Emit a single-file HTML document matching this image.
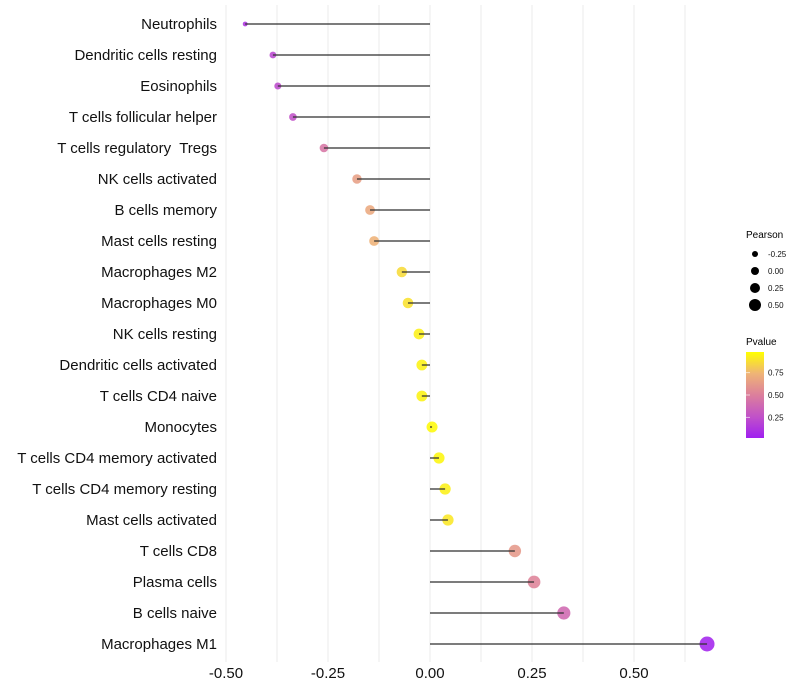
<!DOCTYPE html>
<html><head><meta charset="utf-8"><style>
body{margin:0;background:#fff;}
svg{display:block;font-family:"Liberation Sans",sans-serif;}
text{white-space:pre;}
</style></head><body>
<svg id="chart" width="800" height="700">
<defs>
<linearGradient id="pgrad" x1="0" y1="1" x2="0" y2="0">
<stop offset="0" stop-color="#a020f0"/><stop offset="0.25" stop-color="#c152c8"/>
<stop offset="0.5" stop-color="#dc7f9c"/><stop offset="0.75" stop-color="#efb476"/>
<stop offset="1" stop-color="#ffff00"/></linearGradient>
</defs>
<g id="grid"></g><g id="marks"></g><g id="labels"></g>
<g>
<text x="746" y="238" font-size="10">Pearson</text>
<g id="sizeLegend"></g>
<text x="746" y="345" font-size="10">Pvalue</text>
<rect x="746" y="352" width="18" height="86" fill="url(#pgrad)"/>
<g id="colorLegend"></g>
</g>
</svg>
<script>
const categories=["Neutrophils","Dendritic cells resting","Eosinophils","T cells follicular helper","T cells regulatory  Tregs","NK cells activated","B cells memory","Mast cells resting","Macrophages M2","Macrophages M0","NK cells resting","Dendritic cells activated","T cells CD4 naive","Monocytes","T cells CD4 memory activated","T cells CD4 memory resting","Mast cells activated","T cells CD8","Plasma cells","B cells naive","Macrophages M1"];
const pearson=[-0.453,-0.385,-0.373,-0.336,-0.26,-0.179,-0.147,-0.137,-0.069,-0.054,-0.027,-0.02,-0.02,0.005,0.022,0.037,0.044,0.208,0.255,0.328,0.679];
const pvalue=[0.1,0.2,0.22,0.25,0.45,0.65,0.7,0.74,0.88,0.9,0.95,0.96,0.96,0.98,0.97,0.95,0.92,0.62,0.52,0.38,0.02];
const xTicks=[-0.5,-0.25,0,0.25,0.5];
const xTickLabels=["-0.50","-0.25","0.00","0.25","0.50"];
const sizeLegendVals=[-0.25,0,0.25,0.5];
const sizeLegendLabels=["-0.25","0.00","0.25","0.50"];
const colorLegendVals=[0.75,0.5,0.25];
const colorLegendLabels=["0.75","0.50","0.25"];

const NS="http://www.w3.org/2000/svg";
const x=v=>430+v*408;
const y=i=>24+i*31;
const r=v=>2+5.5*Math.sqrt(Math.max(0,(v+0.46)/1.14));
const rl=v=>4+4*v;
function lerp(a,b,t){return a.map((c,k)=>Math.round(c+(b[k]-c)*t));}
const stops=[[0,[160,32,240]],[0.25,[193,82,200]],[0.5,[220,127,156]],[0.75,[239,180,118]],[1,[255,255,0]]];
function col(p){for(let k=1;k<stops.length;k++){if(p<=stops[k][0]){const t=(p-stops[k-1][0])/(stops[k][0]-stops[k-1][0]);const c=lerp(stops[k-1][1],stops[k][1],t);return `rgb(${c})`;}}return "rgb(255,255,0)";}
function mk(tag,attrs,parent){const e=document.createElementNS(NS,tag);for(const k in attrs)e.setAttribute(k,attrs[k]);parent.appendChild(e);return e;}
const grid=document.getElementById('grid'),marks=document.getElementById('marks'),labels=document.getElementById('labels');
for(let v=-0.5;v<=0.626;v+=0.125){const g=mk('line',{x1:x(v),x2:x(v),y1:5,y2:662,stroke:'#ebebeb','stroke-width':1},grid);

}
xTicks.forEach((v,i)=>{const t=mk('text',{x:x(v),y:678,'font-size':15,'text-anchor':'middle',fill:'#111'},labels);t.textContent=xTickLabels[i];

});
categories.forEach((c,i)=>{
const t=mk('text',{x:217,y:y(i)+5,'font-size':15,'text-anchor':'end',fill:'#111'},labels);t.textContent=c;


const p=mk('circle',{cx:x(pearson[i]),cy:y(i),r:r(pearson[i]),fill:col(pvalue[i]),'fill-opacity':0.88},marks);


const l=mk('line',{x1:x(0),x2:x(pearson[i]),y1:y(i),y2:y(i),stroke:'#333','stroke-opacity':0.85,'stroke-width':1.5},marks);


});
const sl=document.getElementById('sizeLegend');
sizeLegendVals.forEach((v,i)=>{const cy=254+i*17;
const c=mk('circle',{cx:755,cy:cy,r:rl(v),fill:'#000'},sl);


const t=mk('text',{x:768,y:cy+3,'font-size':8,fill:'#111'},sl);t.textContent=sizeLegendLabels[i];

});
const cl=document.getElementById('colorLegend');
colorLegendVals.forEach((v,i)=>{const cy=438-(v-0.02)/0.96*86;
const tk=mk('line',{x1:746,x2:750,y1:cy,y2:cy,stroke:'#fff','stroke-opacity':0.6},cl);


const t=mk('text',{x:768,y:cy+3,'font-size':8,fill:'#111'},cl);t.textContent=colorLegendLabels[i];

});
</script>
</body></html>
